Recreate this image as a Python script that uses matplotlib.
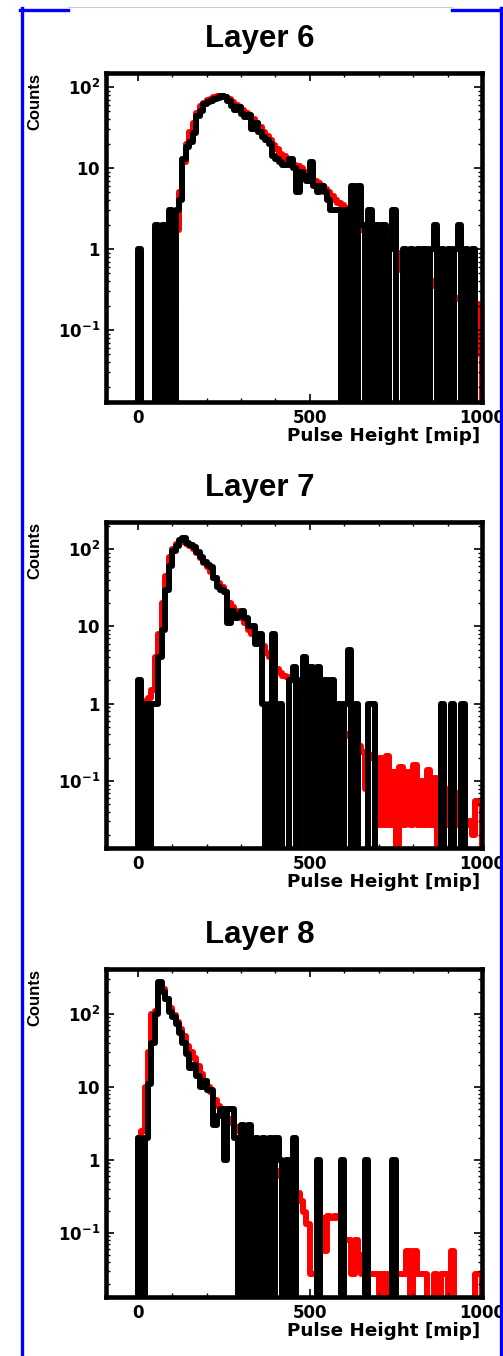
import numpy as np
import matplotlib
matplotlib.use('Agg')
import matplotlib.pyplot as plt
from matplotlib.lines import Line2D
from matplotlib.ticker import MultipleLocator, LogLocator, NullFormatter

# ----------------------------
# Data (counts per 10 mip bin, 0..1000)
# ----------------------------
bin_edges = np.arange(0, 1001, 10)

layer6_sim = [
    0, 0, 0, 0, 0, 0, 0, 0, 0, 0,
    0.25, 1.7, 5, 12, 20, 28, 36, 48, 58, 64,
    70, 72, 75, 78, 78, 76, 72, 66, 60, 56,
    52, 48, 44, 40, 36, 32, 28, 25, 22, 19,
    17, 15, 14, 12.5, 11.5, 11, 10.5, 10, 9, 8.5,
    8, 7, 6.5, 6, 5.5, 5, 4.5, 4, 3.7, 3.5,
    3.2, 2.9, 2.6, 2.3, 2.0, 1.7, 1.6, 1.4, 1.35, 1.3,
    1.2, 1.15, 1.1, 1.06, 1.0, 0.55, 0.9, 0.7, 0.6, 0.6,
    0.55, 0.5, 0.45, 0.45, 0.4, 0.4, 0.35, 0.35, 0.3, 0.3,
    0.28, 0.26, 0.25, 0.24, 0.22, 0.025, 0.21, 0.15, 0.21, 0.05,
]
layer6_data = [
    1, 0, 0, 0, 0, 2, 0, 2, 0, 3,
    0, 3, 4, 13, 18, 21, 27, 44, 50, 61,
    65, 68, 72, 74, 78, 75, 68, 58, 52, 56,
    47, 43, 45, 30, 36, 28, 24, 22, 20, 14,
    13, 12, 11, 11, 13, 10, 5, 9, 8, 7,
    12, 6, 5, 6, 5, 4, 3, 3, 3, 0,
    3, 0, 6, 0, 6, 2, 0, 3, 0, 2,
    0, 2, 0, 1, 3, 0, 0, 1, 0, 1,
    0, 1, 0, 1, 0, 1, 2, 0, 1, 0,
    1, 0, 1, 2, 0, 1, 0, 1, 0, 0,
]

layer7_sim = [
    0, 0.025, 1.1, 1.2, 1.5, 4, 8, 20, 45, 80,
    100, 115, 122, 122, 118, 110, 100, 88, 76, 66,
    58, 50, 42, 36, 32, 28, 20, 18, 16, 14,
    13, 11, 9, 8, 7, 6.5, 5.5, 4.5, 4, 3.5,
    2.8, 2.5, 2.3, 2.2, 2.1, 2.0, 1.8, 1.5, 1.3, 1.2,
    1.1, 1.0, 0.9, 0.5, 0.8, 0.7, 0.6, 0.55, 0.5, 0.45,
    0.4, 0.38, 0.35, 0.3, 0.28, 0.24, 0.08, 0.2, 0.22, 0.027,
    0.2, 0.027, 0.21, 0.027, 0.13, 0, 0.15, 0.027, 0.13, 0.027,
    0.16, 0.027, 0.1, 0.027, 0.14, 0.027, 0.11, 0, 0.1, 0.027,
    0.08, 0.027, 0.07, 0.027, 0.05, 0.027, 0.03, 0.02, 0.055, 0.05,
]
layer7_data = [
    2, 0, 1, 0, 1, 1, 4, 9, 30, 60,
    95, 110, 130, 140, 120, 112, 105, 92, 78, 68,
    62, 58, 42, 32, 30, 28, 11, 16, 13, 14,
    16, 13, 10, 10, 6, 8, 1, 0, 1, 8,
    0, 1, 0, 0, 2, 3, 0, 2, 4, 0,
    3, 0, 3, 0, 2, 0, 2, 0, 1, 0,
    1, 5, 0, 1, 0, 0, 0, 1, 1, 0,
    0, 0, 0, 0, 0, 0, 0, 0, 0, 0,
    0, 0, 0, 0, 0, 0, 0, 0, 1, 0,
    0, 1, 0, 0, 1, 0, 0, 0, 0, 0,
]

layer8_sim = [
    2, 2.5, 10, 30, 100, 110, 250, 220, 160, 120,
    95, 78, 62, 50, 36, 30, 25, 19, 15, 12,
    10, 8.5, 6.5, 5.5, 4.5, 4, 3.6, 3.2, 2.8, 2.5,
    2.3, 2.0, 1.8, 1.6, 1.4, 1.25, 1.1, 1.0, 0.9, 0.8,
    0.7, 0.6, 0.55, 0.5, 0.45, 0.4, 0.35, 0.27, 0.19, 0.13,
    0.027, 0.027, 0.1, 0.16, 0.056, 0.17, 0.16, 0.17, 0.16, 0.1,
    0.08, 0.08, 0.027, 0.08, 0.05, 0.027, 0.03, 0.027, 0.027, 0.027,
    0, 0.027, 0, 0.027, 0.03, 0.027, 0.027, 0.027, 0.056, 0,
    0.056, 0.027, 0.027, 0.027, 0, 0, 0.027, 0, 0.027, 0.027,
    0, 0.056, 0, 0, 0, 0, 0, 0, 0.027, 0.027,
]
layer8_data = [
    2, 0, 2, 11, 40, 100, 270, 200, 160, 105,
    90, 72, 55, 40, 28, 18, 20, 14, 10, 12,
    9, 9, 3, 4, 5, 1, 5, 5, 2, 0,
    3, 0, 3, 0, 2, 0, 2, 0, 2, 0,
    2, 1, 0, 1, 0, 2, 0, 0, 0, 0,
    0, 0, 1, 0, 0, 0, 0, 0, 0, 1,
    0, 0, 0, 0, 0, 0, 1, 0, 0, 0,
    0, 0, 0, 0, 1, 0, 0, 0, 0, 0,
    0, 0, 0, 0, 0, 0, 0, 0, 0, 0,
    0, 0, 0, 0, 0, 0, 0, 0, 0, 0,
]

titles = ['Layer 6', 'Layer 7', 'Layer 8']
sims = [layer6_sim, layer7_sim, layer8_sim]
datas = [layer6_data, layer7_data, layer8_data]
y_ranges = [(0.0129, 149), (0.0136, 224), (0.0132, 410)]
y_ticks = [0.1, 1, 10, 100]
y_ticklabels = [r'$\mathbf{10^{-1}}$', r'$\mathbf{1}$', r'$\mathbf{10}$', r'$\mathbf{10^{2}}$']
x_ticks = [0, 500, 1000]

# ----------------------------
# Layout (pixels)
# ----------------------------
W, H = 503, 1356
ax_left, ax_right = 106, 482
ax_tops = [73, 522, 969]
ax_bottoms = [402, 848, 1297]
floor = 1e-3
hist_lw = 4.3

fig = plt.figure(figsize=(W / 100, H / 100), dpi=100)

for i in range(3):
    top, bottom = ax_tops[i], ax_bottoms[i]
    ax = fig.add_axes([ax_left / W, 1 - bottom / H,
                       (ax_right - ax_left) / W, (bottom - top) / H])

    sim = np.maximum(np.array(sims[i], dtype=float), floor)
    dat = np.maximum(np.array(datas[i], dtype=float), floor)
    ax.stairs(sim, bin_edges, baseline=floor, color='#ff0000', lw=hist_lw,
              joinstyle='round', capstyle='round')
    ax.stairs(dat, bin_edges, baseline=floor, color='black', lw=hist_lw,
              joinstyle='round', capstyle='round')

    ax.set_yscale('log')
    ax.set_xlim(-92, 1000)
    ax.set_ylim(*y_ranges[i])

    ax.set_xticks(x_ticks, labels=[str(t) for t in x_ticks],
                  fontsize=12, fontweight='bold')
    ax.xaxis.set_minor_locator(MultipleLocator(100))
    ax.set_yticks(y_ticks, labels=y_ticklabels, fontsize=12)
    ax.yaxis.set_minor_locator(LogLocator(base=10, subs=np.arange(2, 10)))
    ax.yaxis.set_minor_formatter(NullFormatter())

    ax.tick_params(which='both', direction='in', top=True, right=True)
    ax.tick_params(which='major', length=6, width=1.2)
    ax.tick_params(which='minor', length=3, width=1.0)
    ax.tick_params(axis='x', which='major', pad=5)
    ax.tick_params(axis='y', which='major', pad=4)

    for sp in ax.spines.values():
        sp.set_linewidth(3.3)
        sp.set_zorder(3)

    ax.annotate('Counts', xy=(0, 1), xycoords='axes fraction',
                xytext=(-71, 0), textcoords='offset pixels',
                rotation=90, ha='center', va='top', fontsize=12,
                fontweight='bold', family='Liberation Sans')
    ax.annotate('Pulse Height [mip]', xy=(1, 0), xycoords='axes fraction',
                xytext=(-2, -39), textcoords='offset pixels',
                ha='right', va='baseline', fontsize=13.2, fontweight='bold')

    fig.text(260 / W, 1 - (top - 26) / H, titles[i], ha='center',
             va='baseline', fontsize=22.5, fontweight='bold',
             family='Liberation Sans')

# blue frame around the figure
blue = '#0000ff'
frame = [
    ([21.5, 21.5], [8, H], blue, 2.4),
    ([500.5, 500.5], [8, H], blue, 2.4),
    ([20, 68], [9.5, 9.5], blue, 2.4),
    ([452, 503], [9.5, 9.5], blue, 2.4),
    ([68, 452], [7, 7], '#c8c8e6', 0.8),
]
for xs, ys, c, lw in frame:
    fig.add_artist(Line2D([x / W for x in xs], [1 - y / H for y in ys],
                          transform=fig.transFigure, color=c, lw=lw))

fig.savefig('out.png', dpi=100)
